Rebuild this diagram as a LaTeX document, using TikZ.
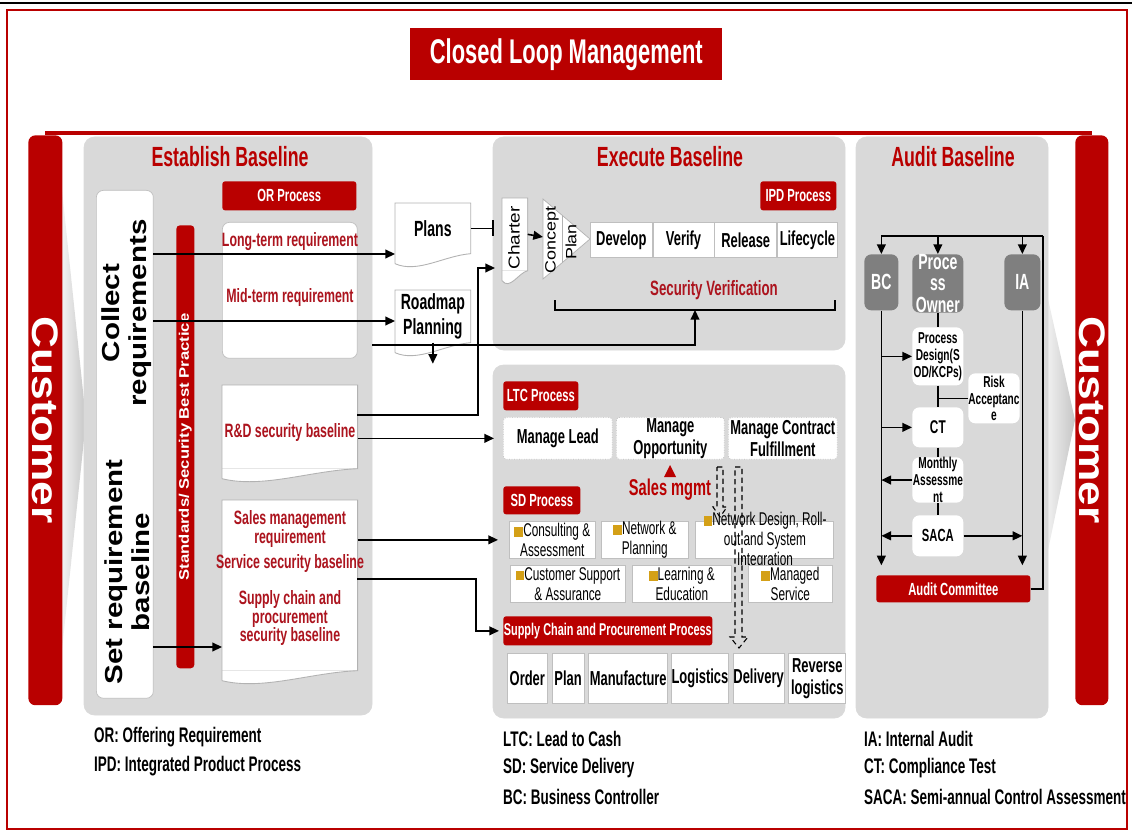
\documentclass[tikz,border=0pt]{standalone}
\usepackage{fontspec}
\setmainfont{Liberation Sans}
\newfontfamily\narfont{Liberation Sans}[FakeStretch=0.64]
\newfontfamily\widefont{Liberation Sans}[FakeStretch=1.2]
\usetikzlibrary{positioning, arrows.meta, calc}
\definecolor{hwred}{RGB}{185,0,0}
\definecolor{lblred}{RGB}{172,20,30}
\definecolor{panelgray}{RGB}{217,217,217}
\definecolor{ownergray}{RGB}{127,127,127}
\definecolor{sqgold}{RGB}{212,160,23}
\newcommand{\gsq}{\textcolor{sqgold}{\rule{5pt}{5.5pt}}}
\newcommand{\docshape}[1]{%
  \fill[white] (#1.south east)
    .. controls ($(#1.south east)!0.35!(#1.south west)+(0,2)$) and ($(#1.south west)!0.3!(#1.south east)+(0,20)$)
    .. ($(#1.south west)+(0,10)$) -- (#1.south west) -- cycle;
  \draw[docline] ($(#1.south west)+(0,10)$) -- (#1.north west) -- (#1.north east) -- (#1.south east)
    .. controls ($(#1.south east)!0.35!(#1.south west)+(0,2)$) and ($(#1.south west)!0.3!(#1.south east)+(0,20)$)
    .. ($(#1.south west)+(0,10)$);}

\begin{document}
\begin{tikzpicture}[x=0.02cm, y=-0.02cm, >={Triangle[length=5.5pt,width=5pt]},
    panel/.style={fill=panelgray, draw=gray!30, rounded corners=6pt},
    ptitle/.style={text=hwred, font=\narfont\bfseries\fontsize{15.8}{17}\selectfont},
    redbox/.style={fill=hwred, text=white, rounded corners=1.5pt, inner sep=0pt, anchor=north west,
      font=\narfont\bfseries\fontsize{10}{11}\selectfont},
    whitebox/.style={fill=white, draw=gray!50, rounded corners=4pt, inner sep=0pt, anchor=north west},
    doc/.style={fill=white, inner sep=0pt, anchor=north west, align=center,
      font=\narfont\bfseries\fontsize{12.5}{14}\selectfont},
    docline/.style={draw=gray!60, line width=0.5pt},
    redlbl/.style={text=lblred, align=center, font=\narfont\bfseries\fontsize{11}{10.4}\selectfont},
    cell/.style={fill=white, draw=gray!50, inner sep=0pt, anchor=north west, align=center,
      font=\narfont\bfseries\fontsize{11.5}{12.5}\selectfont},
    ltccell/.style={cell, densely dotted, rounded corners=2pt},
    sdcell/.style={cell, minimum height=0.74cm, font=\narfont\fontsize{10.5}{11.3}\selectfont},
    owner/.style={fill=ownergray, text=white, rounded corners=4pt, inner sep=0pt, anchor=north west,
      minimum height=1.12cm, align=center, font=\narfont\bfseries\fontsize{12.5}{12.2}\selectfont},
    audbox/.style={fill=white, rounded corners=4pt, inner sep=0pt, anchor=north west, minimum width=1.02cm,
      align=center, font=\narfont\bfseries\fontsize{9}{9.6}\selectfont},
    conn/.style={->, line width=0.9pt},
    legend/.style={anchor=west, font=\narfont\bfseries\fontsize{12}{13}\selectfont}]

\useasboundingbox (0,0) rectangle (1132,831);
\draw[line width=1.2pt] (0,3) -- (1132,3);
\draw[hwred, line width=0.8pt] (7,10) rectangle (1127,829);
\node[fill=hwred, text=white, minimum width=6.24cm, minimum height=1.04cm, anchor=north west,
  font=\narfont\bfseries\fontsize{19.5}{20}\selectfont] (title) at (410,28) {Closed Loop Management};

\shade[left color=gray!10, right color=gray!45] (62,190) -- (86,420) -- (62,650) -- cycle;
\shade[left color=gray!10, right color=gray!45] (1046,290) -- (1075,420) -- (1046,560) -- cycle;

\path[panel] (84,137) rectangle (372,715);
\path[panel] (493,137) rectangle (845,350);
\path[panel] (493,365) rectangle (845,718);
\path[panel] (856,137) rectangle (1048,718);

\node[fill=hwred, rounded corners=4pt, minimum width=0.68cm, minimum height=11.4cm, anchor=north west] (custL) at (28,135) {};
\node[rotate=-90, text=white, font=\widefont\bfseries\fontsize{21}{22}\selectfont] at (custL.center) {Customer};
\node[fill=hwred, rounded corners=4pt, minimum width=0.66cm, minimum height=11.4cm, anchor=north west] (custR) at (1075,135) {};
\node[rotate=-90, text=white, font=\widefont\bfseries\fontsize{21}{22}\selectfont] at (custR.center) {Customer};
\draw[hwred, line width=2pt] ($(custR.north)+(0,-2)$) -- ($(custL.north)+(0,-2)$);

\node[ptitle] (esttitle) at (230,157) {Establish Baseline};
\node[whitebox, minimum width=1.14cm, minimum height=10.16cm] (collect) at (96,190) {};
\node[rotate=90, align=center, font=\widefont\bfseries\fontsize{14}{15.4}\selectfont] (colltxt) at (127,313) {Collect\\requirements};
\node[rotate=90, align=center, font=\widefont\bfseries\fontsize{14}{15.4}\selectfont] (settxt) at (127,572) {Set requirement\\baseline};
\node[fill=hwred, rounded corners=2pt, minimum width=0.36cm, minimum height=8.86cm, anchor=north west] (std) at (176,225) {};
\node[rotate=90, text=white, font=\widefont\bfseries\fontsize{7.9}{9}\selectfont] at (std.center) {Standards/ Security Best Practice};
\node[redbox, minimum width=2.68cm, minimum height=0.58cm] (orproc) at (222,181) {OR Process};
\node[whitebox, minimum width=2.7cm, minimum height=2.72cm] (reqbox) at (222,222) {};
\node[redlbl] (ltreq) at (290,242) {Long-term requirement};
\node[redlbl] (mtreq) at (290,298) {Mid-term requirement};
\node[doc, minimum width=2.7cm, minimum height=1.66cm] (rdbase) at (222,385) {};
\docshape{rdbase}
\node[redlbl] (rdlbl) at (290,432) {R\&D security baseline};
\node[doc, minimum width=2.7cm, minimum height=3.4cm] (salesdoc) at (222,500) {};
\docshape{salesdoc}
\node[redlbl] (salesreq) at (290,529) {Sales management\\requirement};
\node[redlbl] (servbase) at (290,563) {Service security baseline};
\node[redlbl] (supbase) at (290,618) {Supply chain and\\procurement\\security baseline};

\node[doc, minimum width=1.5cm, minimum height=1.0cm] (plans) at (395,203) {Plans};
\docshape{plans}
\node[doc, minimum width=1.5cm, minimum height=1.04cm] (roadmap) at (395,290) {Roadmap\\Planning};
\docshape{roadmap}

\node[ptitle] (exetitle) at (670,157) {Execute Baseline};
\node[redbox, minimum width=1.52cm, minimum height=0.58cm] (ipdproc) at (760,181) {IPD Process};
\node[doc, minimum width=0.5cm, minimum height=1.44cm] (charter) at (502,198) {};
\docshape{charter}
\node[rotate=90, font=\widefont\fontsize{9}{10}\selectfont] at (514,238) {Charter};
\draw[fill=white, draw=gray!60] (543,199) -- (590,239) -- (543,279) -- cycle;
\draw[gray!60] (562,215) -- (562,263);
\node[rotate=90, font=\widefont\fontsize{8.5}{9}\selectfont] at (552,240) {Concept};
\node[rotate=90, font=\widefont\fontsize{8.5}{9}\selectfont] at (571,242) {Plan};
\coordinate (conc) at (543,237);
\node[cell, minimum width=1.24cm, minimum height=0.7cm] (develop) at (590,222) {Develop};
\node[cell, minimum width=1.22cm, minimum height=0.7cm, right=0pt of develop] (verify) {Verify};
\node[cell, minimum width=1.24cm, minimum height=0.7cm, right=0pt of verify] (release) {Release};
\node[cell, minimum width=1.2cm, minimum height=0.7cm, right=0pt of release] (lifecycle) {Lifecycle};
\node[redlbl, font=\narfont\bfseries\fontsize{11.8}{13}\selectfont] (secver) at (714,290) {Security Verification};
\draw[line width=0.9pt] (555,300) -- (555,310) -- (835,310) -- (835,300);
\coordinate (brk) at (695,310);

\node[redbox, minimum width=1.5cm, minimum height=0.58cm] (ltcproc) at (503,381) {LTC Process};
\node[ltccell, minimum width=2.18cm, minimum height=0.84cm] (mlead) at (503,417) {Manage Lead};
\node[ltccell, minimum width=2.16cm, minimum height=0.84cm] (mopp) at (616,417) {Manage\\Opportunity};
\node[ltccell, minimum width=2.18cm, minimum height=0.84cm] (mcontract) at (728,417) {Manage Contract\\Fulfillment};
\fill[hwred] (664,477) -- (676,477) -- (670,465) -- cycle;
\node[text=hwred, font=\narfont\bfseries\fontsize{13}{14}\selectfont] (salesmgmt) at (670,490) {Sales mgmt};

\node[redbox, minimum width=1.54cm, minimum height=0.56cm] (sdproc) at (503,486) {SD Process};
\node[sdcell, minimum width=1.72cm] (consult) at (509,521) {\gsq Consulting \&\\Assessment};
\node[sdcell, minimum width=1.74cm] (netplan) at (601,521) {\gsq Network \&\\Planning};
\node[sdcell, minimum width=2.76cm] (netdesign) at (695,521) {};
\node[align=center, font=\narfont\fontsize{10.5}{11.3}\selectfont] (ndtext) at (765,541) {\gsq Network Design, Roll-\\out and System\\Integration};
\node[sdcell, minimum width=2.3cm] (custsupp) at (510,565) {\gsq Customer Support\\\& Assurance};
\node[sdcell, minimum width=1.98cm] (learning) at (632,565) {\gsq Learning \&\\Education};
\node[sdcell, minimum width=1.68cm] (managed) at (748,565) {\gsq Managed\\Service};

\node[redbox, minimum width=4.18cm, minimum height=0.58cm, font=\narfont\bfseries\fontsize{9.7}{10}\selectfont] (scproc) at (503,616) {Supply Chain and Procurement Process};
\node[cell, minimum width=0.8cm, minimum height=1.0cm] (order) at (507,653) {Order};
\node[cell, minimum width=0.64cm, minimum height=1.0cm, right=0.08cm of order] (plan) {Plan};
\node[cell, minimum width=1.58cm, minimum height=1.0cm, right=0.08cm of plan] (manuf) {Manufacture};
\node[cell, minimum width=1.14cm, minimum height=1.0cm, right=0.06cm of manuf] (logist) {Logistics};
\node[cell, minimum width=1.02cm, minimum height=1.0cm, right=0.08cm of logist] (delivery) {Delivery};
\node[cell, minimum width=1.14cm, minimum height=1.0cm, right=0.08cm of delivery] (reverse) {Reverse\\logistics};

\draw[densely dashed, line width=0.6pt] (717,467) -- (723,467) -- (723,507) -- (727,507) -- (720,517) -- (713,507) -- (717,507) -- cycle;
\draw[densely dashed, line width=0.6pt] (735,467) -- (742,467) -- (742,637) -- (748,637) -- (739,648) -- (730,637) -- (735,637) -- cycle;

\node[ptitle] (audtitle) at (953,157) {Audit Baseline};
\node[owner, minimum width=0.68cm] (bc) at (864,254) {BC};
\node[owner, minimum width=1.02cm] (powner) at (912,254) {Proce\\ss\\Owner};
\node[owner, minimum width=0.72cm] (ia) at (1004,254) {IA};
\node[audbox, minimum height=1.16cm] (pdesign) at (912,327) {Process\\Design(S\\OD/KCPs)};
\node[audbox, minimum width=1.0cm, minimum height=1.0cm] (risk) at (968,373) {Risk\\Acceptanc\\e};
\node[audbox, minimum height=0.8cm, font=\narfont\bfseries\fontsize{10.5}{11}\selectfont] (ct) at (912,407) {CT};
\node[audbox, minimum height=0.86cm] (monthly) at (912,457) {Monthly\\Assessme\\nt};
\node[audbox, minimum height=0.82cm, font=\narfont\bfseries\fontsize{10}{11}\selectfont] (saca) at (912,515) {SACA};
\node[redbox, minimum width=3.08cm, minimum height=0.54cm] (auditc) at (876,575) {Audit Committee};

\coordinate (looptop) at (1043,236);
\draw[line width=0.9pt] (auditc.east) -| (looptop);
\draw[conn] (looptop) -| (bc.north);
\draw[conn] (powner.north |- looptop) -- (powner.north);
\draw[conn] (ia.north |- looptop) -- (ia.north);
\draw[conn, shorten >=5.5pt] (bc.south) -- (bc.south |- auditc.north);
\draw[conn, shorten >=5.5pt] (ia.south) -- (ia.south |- auditc.north);
\draw[line width=0.9pt] (powner.south) -- (pdesign.north) (pdesign.south) -- (ct.north)
  (ct.south) -- (monthly.north) (monthly.south) -- (saca.north);
\draw[line width=0.9pt] (risk.west) -- (risk.west -| ct.north);
\draw[conn] (bc.south |- pdesign.west) -- (pdesign.west);
\draw[conn] (bc.south |- ct.west) -- (ct.west);
\draw[conn] (monthly.west) -- (monthly.west -| bc.south);
\draw[conn] (saca.west) -- (saca.west -| bc.south);
\draw[conn] (saca.east) -- (saca.east -| ia.south);

\coordinate (cr1) at (153,254);
\coordinate (cr2) at (153,321);
\coordinate (cr3) at (372,345);
\coordinate (cr4) at (153,647);
\coordinate (rd1) at (357,415);
\coordinate (sv1) at (357,579);
\coordinate (ch1) at (495,268);
\draw[conn] (cr1) -- (cr1 -| plans.west);
\draw[conn] (cr2) -- (cr2 -| roadmap.west);
\draw[conn] (cr3) -| (brk);
\draw[conn] (cr4) -- (cr4 -| salesdoc.west);
\draw[-{Bar[width=9pt]}, line width=0.9pt] (plans.east) -- ++(23,0);
\draw[conn] (roadmap.south) -- ++(0,21);
\draw[conn] (rd1) -- ++(121,0) |- (ch1);
\draw[conn] (charter.east) -- (conc);
\draw[conn] (rdbase.east |- mlead.west) -- ($(mlead.west)+(-9,0)$);
\draw[conn] (salesdoc.east |- consult.west) -- ($(consult.west)+(-11,0)$);
\draw[conn] (sv1) -- ++(119,0) |- ($(scproc.west)+(-4,0)$);

\node[legend] at (88,737) {OR: Offering Requirement};
\node[legend] at (88,766) {IPD: Integrated Product Process};
\node[legend] at (497,739) {LTC: Lead to Cash};
\node[legend] at (497,768) {SD: Service Delivery};
\node[legend] at (497,797) {BC: Business Controller};
\node[legend] at (858,739) {IA: Internal Audit};
\node[legend] at (858,768) {CT: Compliance Test};
\node[legend] at (858,797) {SACA: Semi-annual Control Assessment};
\end{tikzpicture}
\end{document}
